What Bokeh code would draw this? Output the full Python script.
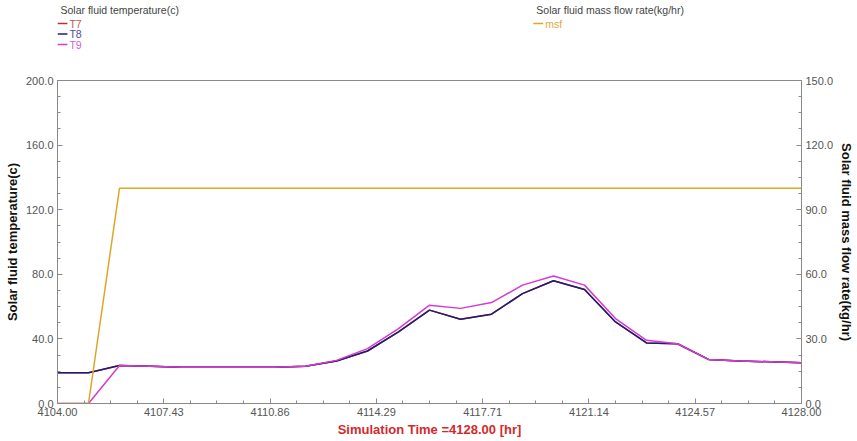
import numpy as np
from bokeh.plotting import figure
from bokeh.layouts import column
from bokeh.models import (Range1d, LinearAxis, FixedTicker, NumeralTickFormatter,
                          ColumnDataSource)
from bokeh.core.properties import value
from bokeh.embed import file_html
from bokeh.resources import INLINE

# Hourly simulation output
hours = [4104, 4105, 4106, 4107, 4108, 4109, 4110, 4111, 4112, 4113, 4114, 4115,
         4116, 4117, 4118, 4119, 4120, 4121, 4122, 4123, 4124, 4125, 4126, 4127, 4128]
t7 = [19.0, 19.0, 23.5, 23.0, 22.5, 22.5, 22.5, 22.5, 23.0, 26.3, 32.5, 44.3,
      57.8, 52.2, 55.3, 68.0, 76.0, 70.6, 50.5, 37.5, 37.0, 27.3, 26.3, 25.8, 25.3]
t8 = [19.0, 19.0, 23.5, 23.0, 22.5, 22.5, 22.5, 22.5, 23.0, 26.3, 32.5, 44.3,
      57.8, 52.2, 55.3, 68.0, 76.0, 70.6, 50.5, 37.5, 37.0, 27.3, 26.3, 25.8, 25.3]
t9 = [0.0, 0.0, 23.5, 23.0, 22.5, 22.5, 22.5, 22.5, 23.0, 26.7, 34.0, 46.4,
      60.9, 58.9, 62.5, 73.3, 79.0, 73.3, 52.6, 39.1, 37.0, 27.3, 26.3, 25.8, 25.3]
msf = [0, 0, 100, 100, 100, 100, 100, 100, 100, 100, 100, 100,
       100, 100, 100, 100, 100, 100, 100, 100, 100, 100, 100, 100, 100]

temp_series = ["T7", "T8", "T9"]
flow_series = ["msf"]
temp_title = "Solar fluid temperature(c)"
flow_title = "Solar fluid mass flow rate(kg/hr)"

temp_range = (0, 200)
flow_range = (0, 150)
sim_end = 4128.00

FONT = "Liberation Sans"
AXIS_GREY = "#8a8a8a"
LABEL_GREY = "#555555"
C7, C8, C9, CM = "#c0302a", "#1c1c7a", "#d43ad4", "#e0a526"

W = 857
LEFT, RIGHT = 57, 51
STRIP_H = 60
MAIN_H = 441 - STRIP_H

# ---- legend strip across the top ----
# The column aligns this strip's frame with the chart frame, so its x range is
# set to the frame's pixel span to keep coordinates in canvas pixels.
leg = figure(width=W, height=STRIP_H, output_backend="svg", toolbar_location=None,
             x_range=Range1d(LEFT, W - RIGHT), y_range=Range1d(STRIP_H, 0),
             x_axis_location=None, y_axis_location=None,
             min_border_left=LEFT, min_border_right=RIGHT,
             min_border_top=0, min_border_bottom=0)
leg.grid.visible = False
leg.outline_line_color = None
leg.border_fill_color = "white"

def legend_block(x0, title, names, line_colors, text_colors):
    leg.text(x=[x0 + 3], y=[3], text=[title], text_color="#444444",
             text_font=value(FONT), text_font_size="10.5px", text_baseline="top")
    ys = [23 + 10.5 * i for i in range(len(names))]
    leg.segment(x0=[x0] * len(names), x1=[x0 + 10] * len(names), y0=ys, y1=ys,
                line_color=line_colors, line_width=1.5)
    leg.text(x=[x0 + 12] * len(names), y=ys, text=names, text_color=text_colors,
             text_font=value(FONT), text_font_size="10.5px", text_baseline="middle")

legend_block(57, temp_title, temp_series, [C7, C8, C9], ["#c25555", "#4a4aa8", "#d060d0"])
legend_block(536, flow_title, flow_series, [CM], ["#e0a83a"])

# ---- main chart ----
src = ColumnDataSource(dict(h=hours, t7=t7, t8=t8, t9=t9, msf=msf))

p = figure(width=W, height=MAIN_H, output_backend="svg", toolbar_location=None,
           x_range=Range1d(hours[0], hours[-1]), y_range=Range1d(*temp_range),
           min_border_left=LEFT, min_border_right=RIGHT,
           min_border_top=80 - STRIP_H, min_border_bottom=38)
p.extra_y_ranges = {"flow": Range1d(*flow_range)}
p.grid.visible = False
p.outline_line_color = AXIS_GREY
p.background_fill_color = "white"
p.border_fill_color = "white"

# x axis: 7 equal divisions of the simulated span
x_major = list(np.linspace(hours[0], hours[-1], 8))
x_minor = list(np.linspace(hours[0], hours[-1], 29))
p.xaxis.ticker = FixedTicker(ticks=x_major, minor_ticks=x_minor)
p.xaxis.formatter = NumeralTickFormatter(format="0.00")
p.xaxis.axis_label = f"Simulation Time ={sim_end:.2f} [hr]"
p.xaxis.axis_label_text_color = "#d42a2a"

p.yaxis.ticker = FixedTicker(ticks=list(range(0, 201, 40)), minor_ticks=list(range(0, 201, 10)))
p.yaxis.formatter = NumeralTickFormatter(format="0.0")
p.yaxis.axis_label = temp_title

right = LinearAxis(y_range_name="flow",
                   ticker=FixedTicker(ticks=list(range(0, 151, 30)),
                                      minor_ticks=list(np.arange(0, 150.1, 7.5))),
                   formatter=NumeralTickFormatter(format="0.0"),
                   axis_label=flow_title)
p.add_layout(right, "right")

for ax in [p.xaxis[0], p.yaxis[0], right]:
    ax.axis_line_color = AXIS_GREY
    ax.major_tick_line_color = AXIS_GREY
    ax.minor_tick_line_color = AXIS_GREY
    ax.major_tick_in = 5
    ax.major_tick_out = 0
    ax.minor_tick_in = 3
    ax.minor_tick_out = 0
    ax.major_label_text_font = FONT
    ax.major_label_text_font_size = "11px"
    ax.major_label_text_color = LABEL_GREY
    ax.major_label_standoff = 4
    ax.axis_label_text_font = FONT
    ax.axis_label_text_font_size = "13px"
    ax.axis_label_text_font_style = "bold"
    ax.axis_label_standoff = 3
p.yaxis[0].axis_label_text_color = "#111111"
right.axis_label_text_color = "#111111"

p.line("h", "t7", source=src, color=C7, line_width=1.5)
p.line("h", "t8", source=src, color=C8, line_width=1.5)
p.line("h", "t9", source=src, color=C9, line_width=1.5)
p.line("h", "msf", source=src, color=CM, line_width=1.5, y_range_name="flow")

layout = column(leg, p, spacing=0)
open("out.html", "w").write(file_html(layout, INLINE))
